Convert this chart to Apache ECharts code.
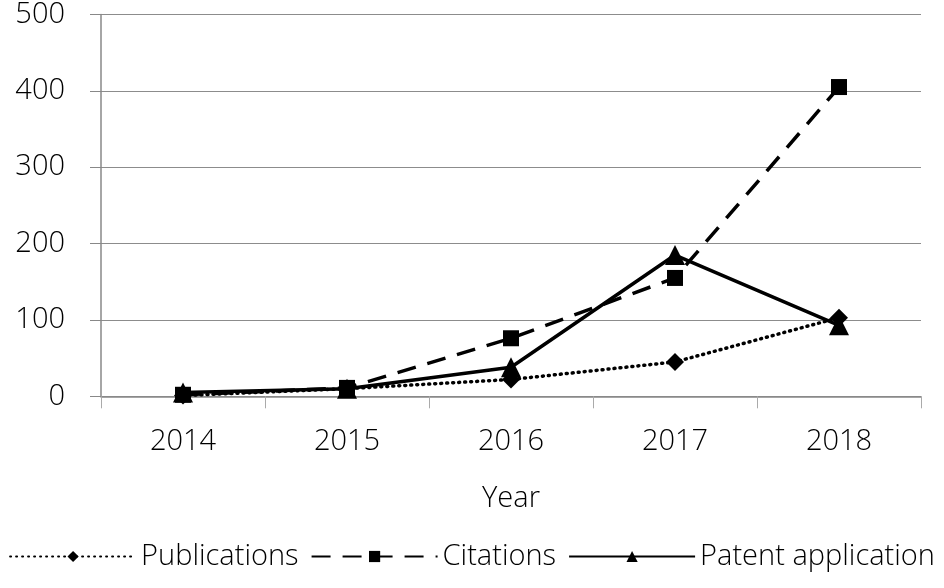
<!DOCTYPE html>
<html><head><meta charset="utf-8">
<script src="https://cdn.jsdelivr.net/npm/echarts@6/dist/echarts.min.js"></script>
<style>html,body{margin:0;padding:0;background:#fff}#c{width:944px;height:588px}</style>
</head><body><div id="c"></div>
<script>
const years = ['2014', '2015', '2016', '2017', '2018'];
const publications = [1, 10, 22, 45, 103];
const citations = [2, 11, 76, 155, 405];
const patents = [5, 10, 38, 185, 93];
const yTicks = [0, 100, 200, 300, 400, 500];

const FONT = '"Open Sans", sans-serif';
const chart = echarts.init(document.getElementById('c'));
chart.setOption({
  backgroundColor: '#fff',
  animation: false,
  grid: { left: 101, right: 23, top: 9.5, bottom: 191.7, containLabel: false },
  legend: {
    bottom: 12,
    left: 'center',
    itemWidth: 126,
    itemHeight: 14,
    itemGap: 12,
    textStyle: { fontFamily: FONT, fontWeight: 300, fontSize: 29, color: '#000' },
    data: ['Publications', 'Citations', 'Patent application']
  },
  xAxis: {
    type: 'category',
    data: years,
    boundaryGap: true,
    name: 'Year',
    nameLocation: 'middle',
    nameGap: 88,
    nameTextStyle: { fontFamily: FONT, fontWeight: 300, fontSize: 29, color: '#000' },
    axisLine: { lineStyle: { color: '#888', width: 1.5 } },
    axisTick: { show: true, length: 12, alignWithLabel: false, lineStyle: { color: '#aaa' } },
    axisLabel: { fontFamily: FONT, fontWeight: 300, fontSize: 29, color: '#000', margin: 31 }
  },
  yAxis: {
    type: 'value',
    min: 0, max: 500, interval: 100,
    axisLine: { show: true, lineStyle: { color: '#888', width: 1.5 } },
    axisTick: { show: true, length: 11, lineStyle: { color: '#888' } },
    splitLine: { lineStyle: { color: '#8c8c8c', width: 1 } },
    axisLabel: { fontFamily: FONT, fontWeight: 300, fontSize: 29, color: '#000', margin: 36,
      formatter: v => yTicks.includes(v) ? String(v) : '' }
  },
  series: [
    { name: 'Publications', type: 'line', data: publications,
      symbol: 'diamond', symbolSize: 18, z: 2,
      lineStyle: { color: '#000', width: 3.5, type: [1, 5], cap: 'round' },
      itemStyle: { color: '#000' } },
    { name: 'Citations', type: 'line', data: citations,
      symbol: 'rect', symbolSize: 16, z: 3,
      lineStyle: { color: '#000', width: 3.5, type: [19, 12] },
      itemStyle: { color: '#000' } },
    { name: 'Patent application', type: 'line', data: patents,
      symbol: 'triangle', symbolSize: 20, z: 4,
      lineStyle: { color: '#000', width: 3.5, type: 'solid' },
      itemStyle: { color: '#000' } }
  ]
});
</script></body></html>
